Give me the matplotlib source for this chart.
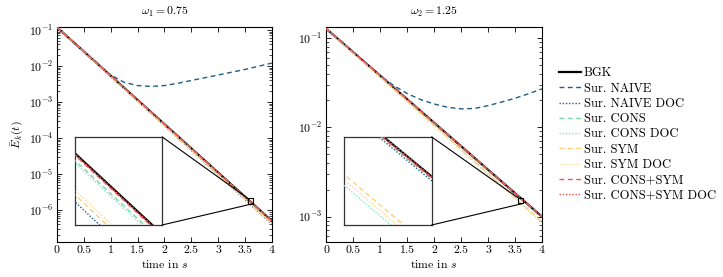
'''
Decay of the kinetic energy for the BGK model and its surrogates
'''
import matplotlib
matplotlib.use("Agg")
import matplotlib.pyplot as plt
from matplotlib.patches import Rectangle, ConnectionPatch

plt.rcParams['font.family'] = 'serif'
plt.rcParams['font.serif'] = ['cmr10']
plt.rcParams['mathtext.fontset'] = 'cm'
plt.rcParams['axes.formatter.use_mathtext'] = True
plt.rcParams['font.size'] = 8.5
plt.rcParams['axes.titlesize'] = 8.5

# time samples (s)
t_coarse = [0, 1, 2, 3, 3.5, 4]
t_fine = [0, 0.25, 0.5, 0.75, 1.0, 1.25, 1.5, 1.75, 2.0, 2.25, 2.5, 2.75, 3.0, 3.25, 3.5, 3.75, 4.0]

# omega_1 = 0.75
bgk_1 = [0.118, 5.333e-3, 2.410e-4, 1.089e-5, 2.315e-6, 4.920e-7]
naive_1 = [0.118, 0.0544, 0.0251, 0.0116, 5.6e-3, 3.5e-3, 2.85e-3, 2.7e-3, 2.85e-3, 3.3e-3,
           3.95e-3, 4.7e-3, 5.6e-3, 6.7e-3, 8.0e-3, 9.8e-3, 0.012]
naive_doc_1 = [0.118, 5.060e-3, 2.170e-4, 9.304e-6, 1.927e-6, 3.990e-7]
cons_1 = [0.118, 5.292e-3, 2.373e-4, 1.064e-5, 2.254e-6, 4.771e-7]
cons_doc_1 = [0.118, 5.279e-3, 2.361e-4, 1.056e-5, 2.233e-6, 4.723e-7]
sym_1 = [0.118, 5.100e-3, 2.204e-4, 9.522e-6, 1.979e-6, 4.113e-7]
sym_doc_1 = [0.118, 5.126e-3, 2.226e-4, 9.669e-6, 2.015e-6, 4.198e-7]
cons_sym_1 = [0.118, 5.323e-3, 2.401e-4, 1.083e-5, 2.299e-6, 4.882e-7]
cons_sym_doc_1 = [0.118, 5.330e-3, 2.409e-4, 1.088e-5, 2.310e-6, 4.907e-7]

# omega_2 = 1.25
bgk_2 = [0.128, 0.03802, 0.01130, 3.357e-3, 1.830e-3, 9.98e-4]
naive_2 = [0.128, 0.0944, 0.0697, 0.0515, 0.0382, 0.0295, 0.0240, 0.0205, 0.0183, 0.0168,
           0.0161, 0.0163, 0.0175, 0.0192, 0.0212, 0.0238, 0.0270]
naive_doc_2 = [0.128, 0.03795, 0.01126, 3.338e-3, 1.818e-3, 9.90e-4]
cons_2 = [0.128, 0.03798, 0.01128, 3.347e-3, 1.824e-3, 9.94e-4]
cons_doc_2 = [0.128, 0.03659, 0.01047, 2.992e-3, 1.600e-3, 8.560e-4]
sym_2 = [0.128, 0.03678, 0.01057, 3.038e-3, 1.629e-3, 8.736e-4]
sym_doc_2 = [0.128, 0.03668, 0.01052, 3.015e-3, 1.614e-3, 8.647e-4]
cons_sym_2 = [0.128, 0.03800, 0.01129, 3.351e-3, 1.826e-3, 9.95e-4]
cons_sym_doc_2 = [0.128, 0.03802, 0.01130, 3.357e-3, 1.830e-3, 9.98e-4]

labels = ['BGK', 'Sur. NAIVE', 'Sur. NAIVE DOC', 'Sur. CONS', 'Sur. CONS DOC',
          'Sur. SYM', 'Sur. SYM DOC', 'Sur. CONS+SYM', 'Sur. CONS+SYM DOC']
colors = ['black', '#1f5d88', '#1f5d88', '#7dd6a4', '#8fe0cc',
          '#ffcf7a', '#ffd98c', '#e65f5f', '#ff4a4a']
dash = (0, (3.5, 2.5))
dot = (0, (1, 1.3))
styles = ['-', dash, dot, dash, dot, dash, dot, dash, dot]
widths = [1.6, 1.0, 1.0, 1.0, 1.0, 1.0, 1.0, 1.0, 1.0]

panels = [
    ([bgk_1, naive_1, naive_doc_1, cons_1, cons_doc_1, sym_1, sym_doc_1, cons_sym_1, cons_sym_doc_1],
     r'$\omega_1 = 0.75$', (1.3e-7, 0.12), (10 ** -5.822, 10 ** -5.675)),
    ([bgk_2, naive_2, naive_doc_2, cons_2, cons_doc_2, sym_2, sym_doc_2, cons_sym_2, cons_sym_doc_2],
     r'$\omega_2 = 1.25$', (5.2e-4, 0.133), (10 ** -2.852, 10 ** -2.7876)),
]
zoom_x = (3.55, 3.65)

fig = plt.figure(figsize=(7.23, 2.77), dpi=100)
ax1 = fig.add_axes([0.0788, 0.1264, 0.2974, 0.776])
ax2 = fig.add_axes([0.4509, 0.1264, 0.2988, 0.776])

for ax, (series, title, ylim, zoom_y) in zip([ax1, ax2], panels):
    axins = ax.inset_axes([0.084, 0.079, 0.405, 0.41])
    for i, y in enumerate(series):
        t = t_fine if len(y) == len(t_fine) else t_coarse
        for a in (ax, axins):
            a.plot(t, y, color=colors[i], linestyle=styles[i], linewidth=widths[i],
                   label=labels[i], zorder=2 + i)
    ax.set_yscale('log')
    ax.set_xlim(0, 4)
    ax.set_ylim(*ylim)
    ax.set_xticks([0, 0.5, 1, 1.5, 2, 2.5, 3, 3.5, 4])
    ax.set_xticklabels(['0', '0.5', '1', '1.5', '2', '2.5', '3', '3.5', '4'])
    ax.tick_params(which='both', direction='in', top=True, right=True, pad=2.5)
    ax.tick_params(which='major', length=3.5, width=0.6)
    ax.tick_params(which='minor', length=2, width=0.5)
    for s in ax.spines.values():
        s.set_linewidth(0.8)
    ax.set_xlabel(r'time in $s$', labelpad=2)
    ax.set_title(title, pad=9)

    axins.set_yscale('log')
    axins.set_xlim(*zoom_x)
    axins.set_ylim(*zoom_y)
    axins.set_xticks([])
    axins.set_yticks([])
    axins.set_yticks([], minor=True)
    axins.set_facecolor('white')
    for s in axins.spines.values():
        s.set_linewidth(0.9)
        s.set_color('0.2')
    axins.set_zorder(20)

    box = Rectangle((zoom_x[0], zoom_y[0]), zoom_x[1] - zoom_x[0], zoom_y[1] - zoom_y[0],
                    fill=False, edgecolor='black', linewidth=0.8, zorder=30)
    ax.add_patch(box)
    for p_ins, p_box in [((1, 1), (zoom_x[0], zoom_y[1])), ((1, 0), (zoom_x[1], zoom_y[0]))]:
        con = ConnectionPatch(xyA=p_ins, coordsA=axins.transAxes, xyB=p_box, coordsB=ax.transData,
                              color='black', linewidth=0.8)
        con.set_zorder(25)
        ax.add_artist(con)

ax1.set_ylabel(r'$\bar{E}_k(t)$', labelpad=2)

handles, leg_labels = ax1.get_legend_handles_labels()
fig.legend(handles[:9], leg_labels[:9], loc='upper left', bbox_to_anchor=(0.766, 0.775),
           frameon=False, handlelength=1.75, handletextpad=0.25, labelspacing=0.25,
           fontsize=9, borderaxespad=0)

fig.savefig('out.png', dpi=100)
